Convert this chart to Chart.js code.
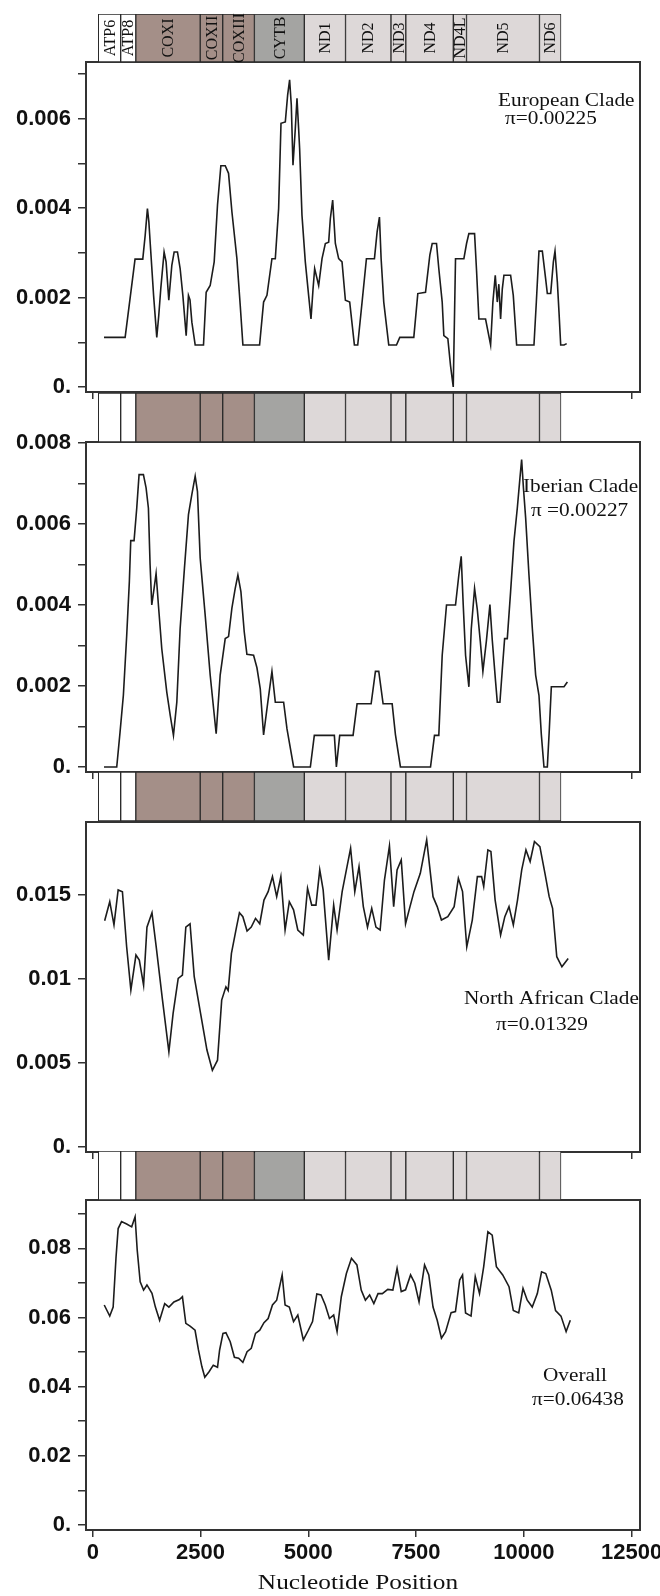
<!DOCTYPE html>
<html>
<head>
<meta charset="utf-8">
<script src="https://cdn.jsdelivr.net/npm/chart.js@4.4.1/dist/chart.umd.min.js"></script>
<style>
  html, body { margin: 0; padding: 0; background: #fff; }
  body { position: relative; width: 660px; height: 1596px; overflow: hidden; }
  .holder { position: absolute; left: 0; }
  canvas { display: block; }
</style>
</head>
<body>
<div class="holder" id="h-euro"><canvas id="euro"></canvas></div>
<div class="holder" id="h-iber"><canvas id="iber"></canvas></div>
<div class="holder" id="h-naf"><canvas id="naf"></canvas></div>
<div class="holder" id="h-all"><canvas id="all"></canvas></div>
<div class="holder" id="h-strip1"><canvas id="strip1"></canvas></div>
<div class="holder" id="h-strip2"><canvas id="strip2"></canvas></div>
<div class="holder" id="h-strip3"><canvas id="strip3"></canvas></div>
<div class="holder" id="h-strip4"><canvas id="strip4"></canvas></div>
<script>
// genes along the mtDNA (nucleotide positions)
const geneNames = ['ATP6', 'ATP8', 'COXI', 'COXII', 'COXIII', 'CYTB', 'ND1', 'ND2', 'ND3', 'ND4', 'ND4L', 'ND5', 'ND6'];
const geneStart = [128, 647, 998, 2492, 3014, 3749, 4907, 5863, 6918, 7262, 8364, 8670, 10363];
const geneEnd   = [647, 998, 2492, 3014, 3749, 4907, 5863, 6918, 7262, 8364, 8670, 10363, 10862];
const geneGroup = ['ATP', 'ATP', 'COX', 'COX', 'COX', 'CYTB', 'ND', 'ND', 'ND', 'ND', 'ND', 'ND', 'ND'];

const xTicks = [0, 2500, 5000, 7500, 10000, 12500];

// European clade
const euroPos = [260, 750, 980, 1159, 1215, 1267, 1300, 1335, 1410, 1484, 1530, 1577, 1654, 1700, 1763, 1833, 1887, 1964, 2026, 2089,
  2166, 2219, 2255, 2298, 2375, 2568, 2630, 2723, 2816, 2893, 2971, 3072, 3149, 3227, 3343, 3420, 3482, 3869, 3962, 4040,
  4156, 4234, 4311, 4366, 4466, 4520, 4566, 4605, 4644, 4698, 4737, 4775, 4798, 4853, 4930, 5007, 5062, 5109, 5147, 5240,
  5318, 5395, 5472, 5511, 5565, 5627, 5704, 5782, 5860, 5960, 6069, 6146, 6247, 6348, 6534, 6596, 6650, 6689, 6750, 6866,
  7045, 7122, 7447, 7540, 7719, 7819, 7874, 7974, 8027, 8106, 8144, 8237, 8299, 8362, 8415, 8609, 8671, 8725, 8857, 8903,
  8957, 9112, 9229, 9282, 9337, 9384, 9420, 9461, 9500, 9538, 9693, 9755, 9833, 10235, 10290, 10351, 10429, 10506, 10545, 10623,
  10685, 10723, 10778, 10816, 10855, 10932, 10994];
const euroPi = [0.00111, 0.00111, 0.00286, 0.00286, 0.00339, 0.00399, 0.0037, 0.00317, 0.00205, 0.00111, 0.0016, 0.0022, 0.00302, 0.0028, 0.00194, 0.00272, 0.00302, 0.00302, 0.00265, 0.00205,
  0.00115, 0.00205, 0.00195, 0.00145, 0.00094, 0.00094, 0.00212, 0.00227, 0.0028, 0.00407, 0.00495, 0.00495, 0.00478, 0.00392, 0.00287, 0.00183, 0.00094, 0.00094, 0.0019, 0.00205,
  0.00287, 0.00287, 0.00399, 0.0059, 0.00593, 0.00653, 0.00687, 0.00631, 0.00496, 0.00578, 0.00646, 0.00578, 0.00534, 0.00384, 0.0028, 0.00205, 0.00152, 0.00219, 0.00265, 0.00227,
  0.00287, 0.00321, 0.00324, 0.00377, 0.00418, 0.00321, 0.00287, 0.0028, 0.00194, 0.0019, 0.00094, 0.00094, 0.0019, 0.00287, 0.00287, 0.00347, 0.0038, 0.00287, 0.0019, 0.00094,
  0.00094, 0.00111, 0.00111, 0.00209, 0.00212, 0.00295, 0.00321, 0.00321, 0.00265, 0.0019, 0.00115, 0.00108, 0.00048, 0.0, 0.00287, 0.00287, 0.00321, 0.00343, 0.00343, 0.0026,
  0.00152, 0.00152, 0.00094, 0.0019, 0.0025, 0.0019, 0.0023, 0.00152, 0.00219, 0.0025, 0.0025, 0.00205, 0.00094, 0.00094, 0.0019, 0.00304, 0.00304, 0.00242, 0.00209, 0.00209,
  0.0028, 0.00304, 0.00234, 0.00167, 0.00094, 0.00094, 0.00097];

// Iberian clade
const iberPos = [260, 555, 632, 709, 787, 848, 880, 957, 1019, 1073, 1174, 1236, 1290, 1329, 1368, 1420, 1468, 1522, 1600, 1716,
  1800, 1871, 1949, 2026, 2126, 2219, 2298, 2375, 2428, 2491, 2607, 2723, 2862, 2955, 3072, 3149, 3227, 3304, 3366, 3436,
  3513, 3575, 3730, 3808, 3885, 3962, 4060, 4156, 4234, 4427, 4505, 4659, 5047, 5139, 5604, 5651, 5728, 6038, 6131, 6457,
  6557, 6634, 6735, 6945, 7021, 7137, 7835, 7927, 8027, 8106, 8206, 8415, 8492, 8547, 8594, 8648, 8725, 8780, 8857, 8919,
  8990, 9050, 9130, 9213, 9268, 9345, 9384, 9445, 9500, 9554, 9616, 9693, 9771, 9848, 9910, 9949, 9990, 10042, 10119, 10197,
  10274, 10351, 10406, 10467, 10545, 10590, 10638, 10932, 11010];
const iberPi = [0, 0, 0.00086, 0.00177, 0.00326, 0.00458, 0.00559, 0.00559, 0.00639, 0.00722, 0.00722, 0.00689, 0.00639, 0.00499, 0.004, 0.0044, 0.00478, 0.004, 0.00292, 0.00185,
  0.00125, 0.00078, 0.0016, 0.00342, 0.00491, 0.00623, 0.00673, 0.00718, 0.0068, 0.00516, 0.00375, 0.00227, 0.00082, 0.00227, 0.00317, 0.00322, 0.00392, 0.00441, 0.00474, 0.00433,
  0.00334, 0.00278, 0.00276, 0.00245, 0.00193, 0.00079, 0.0016, 0.00236, 0.0016, 0.0016, 0.00094, 0, 0, 0.00078, 0.00078, 0, 0.00078, 0.00078, 0.00156, 0.00156,
  0.00236, 0.00236, 0.00156, 0.00156, 0.0008, 0, 0, 0.00078, 0.00078, 0.00276, 0.004, 0.004, 0.00474, 0.0052, 0.004, 0.00276, 0.00198, 0.0034, 0.00441, 0.0039,
  0.0031, 0.00236, 0.0031, 0.00401, 0.00313, 0.0021, 0.0016, 0.0016, 0.0024, 0.00317, 0.00317, 0.00433, 0.00557, 0.00639, 0.00714, 0.00759, 0.0069, 0.00615, 0.00474, 0.00342,
  0.00227, 0.00177, 0.0008, 0, 0, 0.0009, 0.00198, 0.00198, 0.0021];

// North African clade
const nafPos = [275, 393, 491, 588, 687, 785, 883, 1001, 1079, 1178, 1256, 1373, 1471, 1617, 1765, 1863, 1981, 2079, 2158, 2256,
  2353, 2500, 2648, 2774, 2893, 2990, 3088, 3140, 3216, 3334, 3402, 3481, 3579, 3676, 3775, 3873, 3971, 4068, 4168, 4266,
  4363, 4461, 4559, 4657, 4756, 4884, 4982, 5079, 5177, 5265, 5344, 5472, 5588, 5667, 5785, 5883, 5981, 6078, 6176, 6276,
  6373, 6471, 6569, 6666, 6766, 6882, 6980, 7059, 7156, 7256, 7350, 7451, 7598, 7746, 7893, 7990, 8088, 8236, 8383, 8481,
  8578, 8676, 8804, 8922, 9020, 9069, 9166, 9236, 9334, 9461, 9559, 9656, 9756, 9853, 9951, 10049, 10146, 10246, 10372, 10490,
  10588, 10667, 10764, 10883, 11029];
const nafPi = [0.01345, 0.01458, 0.0132, 0.01528, 0.01517, 0.0119, 0.00933, 0.01141, 0.01111, 0.00962, 0.01307, 0.01393, 0.0119, 0.00873, 0.00566, 0.00794, 0.01002, 0.01022, 0.01307, 0.01327,
  0.01012, 0.00794, 0.00576, 0.00456, 0.00516, 0.00873, 0.00952, 0.0093, 0.01151, 0.01307, 0.01393, 0.01369, 0.01284, 0.01307, 0.01359, 0.01327, 0.01468, 0.01518, 0.01607, 0.01488,
  0.01607, 0.0129, 0.01458, 0.0141, 0.0129, 0.0126, 0.01538, 0.01438, 0.01438, 0.01647, 0.01528, 0.01111, 0.01438, 0.0129, 0.01518, 0.01647, 0.01776, 0.01518, 0.01667, 0.01429,
  0.01307, 0.01419, 0.01307, 0.0129, 0.01587, 0.0179, 0.01429, 0.01647, 0.01706, 0.01327, 0.0142, 0.01518, 0.01627, 0.01826, 0.01488, 0.01429, 0.01349, 0.01369, 0.01429, 0.01597,
  0.01518, 0.0119, 0.01349, 0.01607, 0.01607, 0.01548, 0.01766, 0.01756, 0.01468, 0.0126, 0.01369, 0.01429, 0.0132, 0.01468, 0.01647, 0.01766, 0.01697, 0.01816, 0.01786, 0.01627,
  0.01488, 0.01419, 0.01131, 0.01071, 0.01121];

// all sequences
const allPos = [265, 393, 472, 539, 588, 667, 785, 902, 981, 1030, 1099, 1178, 1256, 1373, 1452, 1550, 1668, 1765, 1882, 2010,
  2079, 2158, 2256, 2372, 2451, 2530, 2598, 2697, 2795, 2893, 2942, 3020, 3088, 3188, 3285, 3383, 3481, 3579, 3676, 3775,
  3873, 3971, 4068, 4168, 4266, 4393, 4461, 4559, 4657, 4756, 4884, 5000, 5098, 5197, 5295, 5393, 5490, 5588, 5667, 5765,
  5883, 6001, 6127, 6227, 6324, 6422, 6520, 6617, 6717, 6843, 6961, 7059, 7156, 7256, 7372, 7470, 7569, 7697, 7795, 7893,
  7990, 8088, 8185, 8313, 8413, 8511, 8578, 8648, 8775, 8873, 8971, 9069, 9166, 9266, 9363, 9510, 9656, 9756, 9881, 9981,
  10079, 10195, 10313, 10411, 10509, 10636, 10736, 10862, 10981, 11078];
const allPi = [0.0636, 0.0604, 0.063, 0.0775, 0.0857, 0.0877, 0.087, 0.0862, 0.0891, 0.0795, 0.0703, 0.0679, 0.0694, 0.067, 0.063, 0.0592, 0.064, 0.063, 0.0645, 0.0652,
  0.066, 0.0583, 0.0575, 0.0563, 0.0506, 0.0458, 0.0427, 0.0443, 0.0462, 0.0456, 0.0506, 0.0554, 0.0556, 0.053, 0.0485, 0.0482, 0.047, 0.0501, 0.0511, 0.0554,
  0.0563, 0.0585, 0.0597, 0.0636, 0.065, 0.0723, 0.0636, 0.063, 0.0588, 0.0607, 0.0535, 0.0563, 0.0588, 0.0668, 0.0665, 0.0636, 0.0597, 0.0607, 0.0559, 0.066,
  0.0727, 0.0771, 0.0752, 0.0679, 0.065, 0.0665, 0.064, 0.0669, 0.0669, 0.0681, 0.0679, 0.0742, 0.0675, 0.068, 0.0723, 0.0699, 0.0645, 0.0752, 0.0723, 0.063,
  0.0592, 0.054, 0.0559, 0.0614, 0.0617, 0.0708, 0.0723, 0.0613, 0.0604, 0.0718, 0.0669, 0.0747, 0.0848, 0.0838, 0.0747, 0.0723, 0.0689, 0.062, 0.0613, 0.0684,
  0.065, 0.063, 0.0669, 0.0732, 0.0727, 0.0679, 0.062, 0.0604, 0.0559, 0.0592];

// y tick marks and their labels ('' = unlabelled minor tick)
const euroYTicks = [0, 0.001, 0.002, 0.003, 0.004, 0.005, 0.006, 0.007];
const euroYLabels = ['0.', '', '0.002', '', '0.004', '', '0.006', ''];
const iberYTicks = [0, 0.001, 0.002, 0.003, 0.004, 0.005, 0.006, 0.007, 0.008];
const iberYLabels = ['0.', '', '0.002', '', '0.004', '', '0.006', '', '0.008'];
const nafYTicks = [0, 0.005, 0.01, 0.015];
const nafYLabels = ['0.', '0.005', '0.01', '0.015'];
const allYTicks = [0, 0.01, 0.02, 0.03, 0.04, 0.05, 0.06, 0.07, 0.08, 0.09];
const allYLabels = ['0.', '', '0.02', '', '0.04', '', '0.06', '', '0.08', ''];

// ---- styling / layout ----
const X_MIN = -158, X_MAX = 12695;
const CANVAS_W = 700, AXIS_W = 86, PAD_RIGHT = 60;
const BOX_H = 330;
const groupFill = { ATP: '#ffffff', COX: '#a48f88', CYTB: '#a4a4a2', ND: '#ddd8d8' };
const tickFont = { family: "'Liberation Sans', Arial, sans-serif", weight: 'bold', size: 22 };
const SERIF = "'Liberation Serif', 'Times New Roman', serif";

// box border + annotations (serif text is slightly wide in the original)
const framePlugin = {
  id: 'frame',
  afterDraw(chart, args, opts) {
    const { ctx, chartArea: a } = chart;
    ctx.save();
    ctx.strokeStyle = '#333';
    ctx.lineWidth = 2;
    ctx.strokeRect(a.left, a.top, a.right - a.left, a.bottom - a.top);
    ctx.fillStyle = '#111';
    ctx.textBaseline = 'alphabetic';
    (opts.notes || []).forEach(n => {
      ctx.font = n.size + 'px ' + SERIF;
      ctx.textAlign = n.align || 'left';
      ctx.save();
      ctx.translate(a.left + n.dx, a.top + n.dy);
      ctx.scale(1.15, 1);
      ctx.fillText(n.text, 0, 0);
      ctx.restore();
    });
    ctx.restore();
  }
};

const geneLabelPlugin = {
  id: 'geneLabels',
  afterDatasetsDraw(chart, args, opts) {
    if (!opts.show) return;
    const ctx = chart.ctx;
    const meta = chart.getDatasetMeta(0);
    ctx.save();
    ctx.font = '16px ' + SERIF;
    ctx.fillStyle = '#111';
    ctx.textAlign = 'center';
    ctx.textBaseline = 'middle';
    meta.data.forEach((bar, i) => {
      const p = bar.getProps(['x', 'y', 'base'], true);
      ctx.save();
      ctx.translate((p.x + p.base) / 2 + 1, p.y);
      ctx.rotate(-Math.PI / 2);
      ctx.fillText(geneNames[i], 0, 0);
      ctx.restore();
    });
    ctx.restore();
  }
};

function place(chart, holderId, top) {
  document.getElementById(holderId).style.top = (top - chart.chartArea.top) + 'px';
}

function makePanel(id, boxTop, pos, vals, yMin, yMax, yTicks, yLabels, notes, showX) {
  const axisH = showX ? 40 : 7;
  const padBottom = showX ? 26 : 16;
  const canvas = document.getElementById(id);
  canvas.width = CANVAS_W;
  canvas.height = 24 + BOX_H + axisH + padBottom;
  const chart = new Chart(canvas, {
    type: 'line',
    data: {
      datasets: [{
        data: pos.map((p, i) => ({ x: p, y: vals[i] })),
        borderColor: '#1c1c1c',
        borderWidth: 1.6,
        pointRadius: 0,
        tension: 0,
        fill: false
      }]
    },
    options: {
      responsive: false,
      animation: false,
      devicePixelRatio: 1,
      layout: { padding: { top: 24, bottom: padBottom, left: 0, right: PAD_RIGHT } },
      plugins: { legend: { display: false }, tooltip: { enabled: false }, frame: { notes } },
      scales: {
        x: {
          type: 'linear', min: X_MIN, max: X_MAX,
          afterBuildTicks: s => { s.ticks = xTicks.map(v => ({ value: v })); },
          afterFit: s => { s.height = axisH; },
          grid: { drawOnChartArea: false, tickLength: 7, color: '#333', lineWidth: 1.5 },
          border: { display: false },
          ticks: { display: showX, font: tickFont, color: '#111', padding: 3, maxRotation: 0, autoSkip: false,
                   callback: v => String(v) }
        },
        y: {
          min: yMin, max: yMax,
          afterBuildTicks: s => { s.ticks = yTicks.map(v => ({ value: v })); },
          afterFit: s => { s.width = AXIS_W; },
          grid: { drawOnChartArea: false, tickLength: 8, color: '#333', lineWidth: 1.5 },
          border: { display: false },
          ticks: { font: tickFont, color: '#111', padding: 7, autoSkip: false,
                   callback: (v, i) => yLabels[i] }
        }
      }
    },
    plugins: [framePlugin]
  });
  place(chart, 'h-' + id, boxTop);
  return chart;
}

function makeStrip(id, top, height, showNames) {
  const canvas = document.getElementById(id);
  canvas.width = CANVAS_W;
  canvas.height = height + 16;
  const chart = new Chart(canvas, {
    type: 'bar',
    data: {
      labels: ['genes'],
      datasets: [{
        data: geneNames.map((g, i) => ({ x: [geneStart[i], geneEnd[i]], y: 'genes' })),
        backgroundColor: geneGroup.map(g => groupFill[g]),
        borderColor: '#2a2a2a',
        borderWidth: 1,
        borderSkipped: false,
        barPercentage: 1,
        categoryPercentage: 1
      }]
    },
    options: {
      indexAxis: 'y',
      responsive: false,
      animation: false,
      devicePixelRatio: 1,
      layout: { padding: { top: 4, bottom: 12, left: AXIS_W, right: PAD_RIGHT } },
      plugins: { legend: { display: false }, tooltip: { enabled: false }, geneLabels: { show: showNames } },
      scales: {
        x: { type: 'linear', min: X_MIN, max: X_MAX, display: false },
        y: { type: 'category', display: false }
      }
    },
    plugins: [geneLabelPlugin]
  });
  place(chart, 'h-' + id, top);
  return chart;
}

makePanel('euro', 62, euroPos, euroPi, -0.000112, 0.00727, euroYTicks, euroYLabels, [
  { text: 'European Clade', dx: 412, dy: 44, size: 18.5 },
  { text: 'π=0.00225', dx: 419, dy: 62, size: 18.5 }
], false);

makePanel('iber', 442, iberPos, iberPi, -0.000124, 0.008025, iberYTicks, iberYLabels, [
  { text: 'Iberian Clade', dx: 437, dy: 50, size: 18.5 },
  { text: 'π =0.00227', dx: 445, dy: 74, size: 18.5 }
], false);

makePanel('naf', 822, nafPos, nafPi, -0.0003, 0.01932, nafYTicks, nafYLabels, [
  { text: 'North African Clade', dx: 378, dy: 182, size: 18.5 },
  { text: 'π=0.01329', dx: 410, dy: 208, size: 18.5 }
], false);

makePanel('all', 1200, allPos, allPi, -0.00145, 0.09396, allYTicks, allYLabels, [
  { text: 'Overall', dx: 457, dy: 181, size: 18.5 },
  { text: 'π=0.06438', dx: 446, dy: 205, size: 18.5 },
  { text: 'Nucleotide Position', dx: 272, dy: 389, size: 22, align: 'center' }
], true);

makeStrip('strip1', 14, 48, true);
makeStrip('strip2', 393, 49, false);
makeStrip('strip3', 772, 49, false);
makeStrip('strip4', 1151, 49, false);
</script>
</body>
</html>
